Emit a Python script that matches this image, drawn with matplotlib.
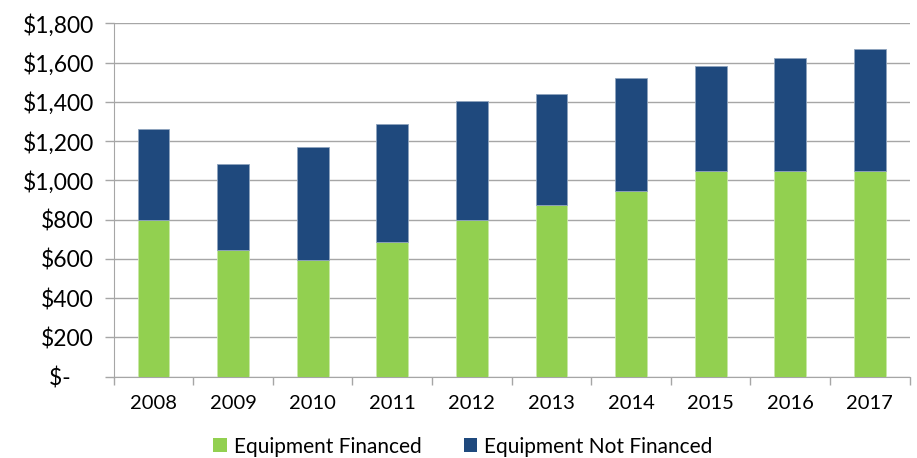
import matplotlib
matplotlib.use("Agg")
import matplotlib.pyplot as plt
import numpy as np
from matplotlib.ticker import FuncFormatter

plt.rcParams['font.family'] = ['Lato', 'DejaVu Sans']

years = ['2008', '2009', '2010', '2011', '2012', '2013', '2014', '2015', '2016', '2017']
financed = [800, 647, 593, 688, 800, 876, 944, 1046, 1049, 1049]
totals = [1262, 1082, 1172, 1289, 1403, 1439, 1522, 1581, 1624, 1671]
not_financed = [t - f for t, f in zip(totals, financed)]

green = '#92D050'
blue = '#1F497D'
grid_c = '#A6A6A6'

fig = plt.figure(figsize=(9.17, 4.58), dpi=100)
ax = fig.add_axes([0.124, 0.1775, 0.868, 0.7715])

x = np.arange(len(years))
ax.bar(x, financed, width=0.4, color=green, edgecolor='#C9E8A8', linewidth=0.6,
       label='Equipment Financed', zorder=3)
ax.bar(x, not_financed, bottom=financed, width=0.4, color=blue, edgecolor='#8FA4BE',
       linewidth=0.6, label='Equipment Not Financed', zorder=3)

ax.set_xlim(-0.5, len(years) - 0.5)
ax.set_ylim(0, 1800)
ax.set_yticks(np.arange(0, 1801, 200))

def fmt(v, pos):
    if v == 0:
        return '$-    '
    return '${:,.0f}'.format(v)
ax.yaxis.set_major_formatter(FuncFormatter(fmt))

ax.set_xticks(x)
ax.set_xticklabels(years)
ax.set_xticks(np.arange(-0.5, len(years), 1), minor=True)
ax.tick_params(axis='x', which='major', length=0, pad=13, labelsize=14.5, colors='#000000')
ax.tick_params(axis='x', which='minor', length=6, color=grid_c, width=1)
ax.tick_params(axis='y', length=6.3, color=grid_c, width=1, pad=8, labelsize=16.5)

ax.grid(axis='y', color=grid_c, linewidth=1, zorder=0)
for s in ['top', 'right']:
    ax.spines[s].set_visible(False)
ax.spines['left'].set_color(grid_c)
ax.spines['bottom'].set_color(grid_c)

leg = fig.legend(loc='center', bbox_to_anchor=(0.505, 0.025), ncol=2, frameon=False,
                 fontsize=15, handlelength=0.65, handleheight=0.65, handletextpad=0.35,
                 columnspacing=2.0)
for h in leg.legend_handles:
    h.set_linewidth(0)

fig.savefig('out.png', dpi=100)
